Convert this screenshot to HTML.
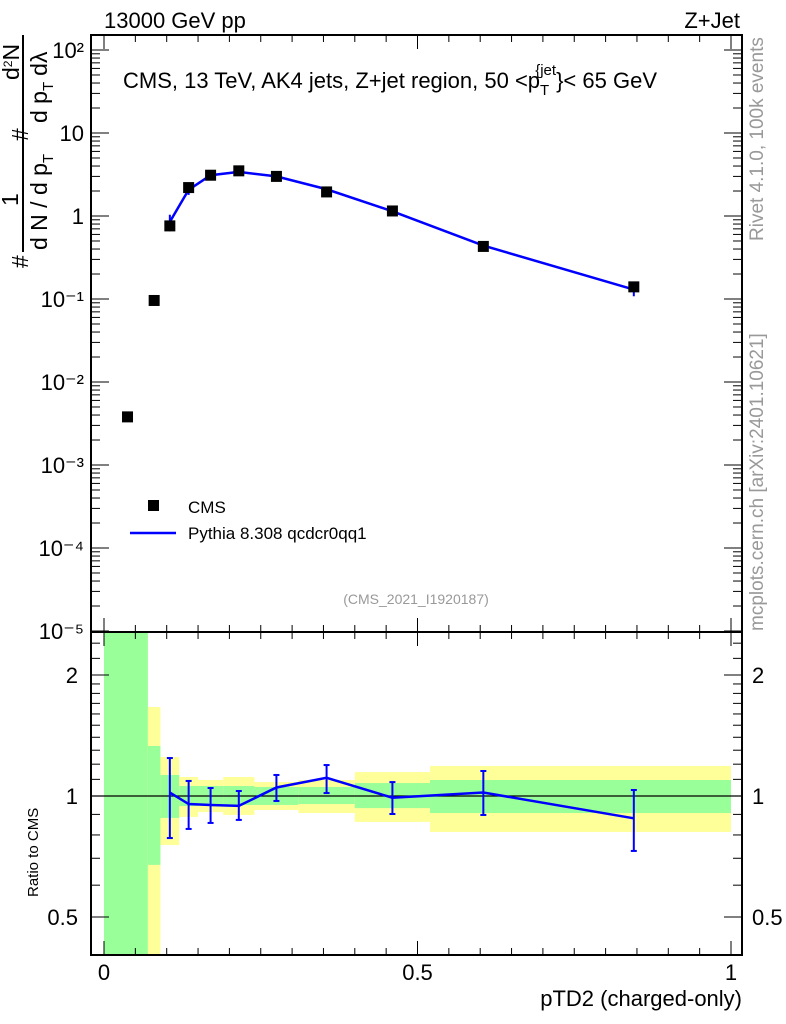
<!DOCTYPE html>
<html><head><meta charset="utf-8"><style>
body{margin:0;background:#fff;}
svg{display:block;font-family:"Liberation Sans",sans-serif;}
</style></head><body>
<svg id="c" width="786" height="1024" xmlns="http://www.w3.org/2000/svg"></svg>
<script>
const xData=[0.0375,0.08,0.105,0.135,0.17,0.215,0.275,0.355,0.46,0.605,0.845];
const cmsValues=[0.0038,0.096,0.76,2.2,3.1,3.5,3.0,1.95,1.15,0.43,0.14];
const mcX=[0.105,0.135,0.17,0.215,0.275,0.355,0.46,0.605,0.845];
const mcValues=[0.85,2.07,3.1,3.4,3.0,2.1,1.14,0.44,0.13];
const ratioValues=[1.02,0.955,0.95,0.945,1.05,1.11,0.99,1.02,0.88];
const ratioUp=[1.243,1.09,1.047,1.029,1.128,1.194,1.083,1.154,1.035];
const ratioDown=[0.786,0.828,0.857,0.872,0.972,1.017,0.902,0.897,0.73];
const binEdges=[0,0.07,0.09,0.12,0.15,0.19,0.24,0.31,0.40,0.52,1.0];
const greenHi=[3,1.332,1.128,1.059,1.059,1.059,1.053,1.053,1.077,1.096];
const greenLo=[0.3,0.674,0.882,0.944,0.95,0.95,0.95,0.955,0.933,0.907];
const yellowHi=[3,1.665,1.25,1.115,1.096,1.115,1.083,1.096,1.147,1.188];
const yellowLo=[0.3,0.3,0.755,0.887,0.912,0.897,0.923,0.907,0.862,0.814];
const yTickVals=[100,10,1,0.1,0.01,0.001,0.0001,0.00001];
const yTickLabels=["10²","10","1","10⁻¹","10⁻²","10⁻³","10⁻⁴","10⁻⁵"];
const rTickVals=[2,1,0.5];
const rTickLabels=["2","1","0.5"];
const xTickVals=[0,0.5,1];
const xTickLabels=["0","0.5","1"];

const NS="http://www.w3.org/2000/svg";
const svg=document.getElementById('c');
const L=91,R=742,T1=35,B1=632,B2=955;
const X=v=>104+627*v;
const Y=v=>216-83*Math.log10(v);
const YR=r=>796-121*Math.log2(r);
function mk(tag,a,parent){const e=document.createElementNS(NS,tag);for(const k in a)e.setAttribute(k,a[k]);(parent||svg).appendChild(e);return e;}
function clip(v,a,b){return Math.max(a,Math.min(b,v));}

for(let i=0;i<binEdges.length-1;i++){
  const x0=X(binEdges[i]),x1=X(binEdges[i+1]);
  const yt=clip(YR(yellowHi[i]),B1,B2),yb=clip(YR(yellowLo[i]),B1,B2);
  const ry=mk('rect',{x:x0,y:yt,width:x1-x0,height:yb-yt,fill:'#ffff99'});
  
  
  const gt=clip(YR(greenHi[i]),B1,B2),gb=clip(YR(greenLo[i]),B1,B2);
  const rg=mk('rect',{x:x0,y:gt,width:x1-x0,height:gb-gt,fill:'#99ff99'});
  
  
}
mk('line',{x1:L,x2:R,y1:YR(1),y2:YR(1),stroke:'#000','stroke-width':1.2});

const f1=mk('rect',{x:L,y:T1,width:R-L,height:B1-T1,fill:'none',stroke:'#000','stroke-width':2});

const f2=mk('rect',{x:L,y:B1,width:R-L,height:B2-B1,fill:'none',stroke:'#000','stroke-width':2});


for(let k=0;k<=20;k++){const v=k*0.05,x=X(v);const major=k%10==0;const len=major?14:7;
  for(const [yt,dir] of [[T1,1],[B1,-1],[B1,1],[B2,-1]]) mk('line',{x1:x,x2:x,y1:yt,y2:yt+dir*len,stroke:'#000','stroke-width':1});}
xTickVals.forEach((v,i)=>{const t=mk('text',{x:X(v),y:980,'font-size':22,'text-anchor':'middle'});t.textContent=xTickLabels[i];
  });

for(let e=-5;e<=2;e++){for(let m=1;m<10;m++){const v=m*Math.pow(10,e);const y=Y(v);if(y<T1||y>B1)continue;const len=m==1?18:9;
  mk('line',{x1:L,x2:L+len,y1:y,y2:y,stroke:'#000','stroke-width':1});mk('line',{x1:R,x2:R-len,y1:y,y2:y,stroke:'#000','stroke-width':1});}}
yTickVals.forEach((v,i)=>{const t=mk('text',{x:84,y:Y(v)+8,'font-size':22,'text-anchor':'end'});t.textContent=yTickLabels[i];
  });
[0.4,0.5,0.6,0.7,0.8,0.9,1,1.1,1.2,1.3,1.4,1.5,1.6,1.7,1.8,1.9,2,2.2,2.4].forEach(v=>{const y=YR(v);if(y<B1||y>B2)return;const len=[0.5,1,2].includes(v)?18:9;
  mk('line',{x1:L,x2:L+len,y1:y,y2:y,stroke:'#000','stroke-width':1});mk('line',{x1:R,x2:R-len,y1:y,y2:y,stroke:'#000','stroke-width':1});});
rTickVals.forEach((v,i)=>{const t=mk('text',{x:78,y:YR(v)+8,'font-size':22,'text-anchor':'end'});t.textContent=rTickLabels[i];
  
  const t2=mk('text',{x:752,y:YR(v)+8,'font-size':22});t2.textContent=rTickLabels[i];
  });

let d=mcX.map((x,i)=>(i?'L':'M')+X(x)+' '+Y(mcValues[i])).join(' ');
const ml=mk('path',{d:d,fill:'none',stroke:'#0000ff','stroke-width':2.5});

mcX.forEach((x,i)=>{const up=mcValues[i]*ratioUp[i]/ratioValues[i],dn=mcValues[i]*ratioDown[i]/ratioValues[i];
  const e=mk('line',{x1:X(x),x2:X(x),y1:Y(up),y2:Y(dn),stroke:'#0000ff','stroke-width':2});
  });
xData.forEach((x,i)=>{const r=mk('rect',{x:X(x)-5.5,y:Y(cmsValues[i])-5.5,width:11,height:11,fill:'#000'});
  });
d=mcX.map((x,i)=>(i?'L':'M')+X(x)+' '+YR(ratioValues[i])).join(' ');
const rl=mk('path',{d:d,fill:'none',stroke:'#0000ff','stroke-width':2.5});

mcX.forEach((x,i)=>{const xx=X(x);
  const e=mk('line',{x1:xx,x2:xx,y1:YR(ratioUp[i]),y2:YR(ratioDown[i]),stroke:'#0000ff','stroke-width':2});
  
  mk('line',{x1:xx-3,x2:xx+3,y1:YR(ratioUp[i]),y2:YR(ratioUp[i]),stroke:'#0000ff','stroke-width':2});
  mk('line',{x1:xx-3,x2:xx+3,y1:YR(ratioDown[i]),y2:YR(ratioDown[i]),stroke:'#0000ff','stroke-width':2});});
</script>
<svg width="786" height="1024" style="position:absolute;left:0;top:0;font-family:'Liberation Sans',sans-serif" xmlns="http://www.w3.org/2000/svg">
<text x="104" y="28" font-size="22">13000 GeV pp</text>
<text x="740" y="28" font-size="22" text-anchor="end">Z+Jet</text>
<text x="123" y="88" font-size="22">CMS, 13 TeV, AK4 jets, Z+jet region, 50 &lt;p<tspan font-size="15" dy="7">T</tspan><tspan font-size="15" dy="-20" dx="-14">{jet</tspan><tspan dy="13">}&lt; 65 GeV</tspan></text>
<rect x="148" y="500" width="11" height="11" fill="#000"/>
<text x="188" y="513" font-size="17">CMS</text>
<line x1="130" x2="176" y1="533" y2="533" stroke="#0000ff" stroke-width="2.5"/>
<text x="188" y="539" font-size="17">Pythia 8.308 qcdcr0qq1</text>
<text x="416" y="604" font-size="14" fill="#999" text-anchor="middle">(CMS_2021_I1920187)</text>
<text x="742" y="1006" font-size="22" text-anchor="end">pTD2 (charged-only)</text>
<text transform="translate(38,897) rotate(-90)" font-size="15">Ratio to CMS</text>
<text transform="translate(763,241) rotate(-90)" font-size="19" fill="#999">Rivet 4.1.0,  100k events</text>
<text transform="translate(763,631) rotate(-90)" font-size="19" fill="#999">mcplots.cern.ch [arXiv:2401.10621]</text>
<g font-size="23">
<line x1="23" x2="23" y1="35" y2="252" stroke="#000" stroke-width="2"/>
<text transform="translate(28,268) rotate(-90)">#</text>
<text transform="translate(18,206) rotate(-90)">1</text>
<text transform="translate(47,250) rotate(-90)">d N / d p<tspan font-size="15" dy="6">T</tspan></text>
<text transform="translate(28,141) rotate(-90)">#</text>
<text transform="translate(19,80) rotate(-90)">d<tspan font-size="12" dy="-7">2</tspan><tspan dy="7">N</tspan></text>
<text transform="translate(47,123) rotate(-90)">d p<tspan font-size="15" dy="6">T</tspan><tspan dx="6" dy="-6">dλ</tspan></text>
</g>
</svg>
</body></html>
